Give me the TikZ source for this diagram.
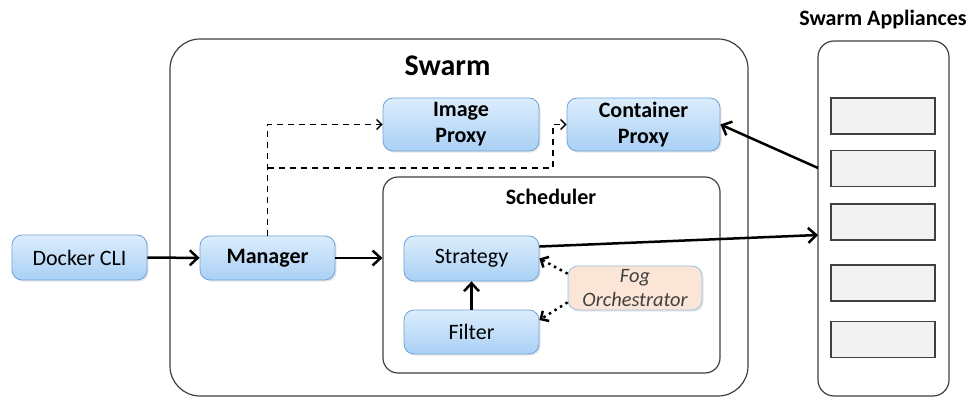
\documentclass[tikz,border=0pt]{standalone}
\usepackage{fontspec}
\setmainfont{Carlito}
\usetikzlibrary{arrows.meta,shadows}

\definecolor{nodetop}{HTML}{DCEDFC}
\definecolor{nodebot}{HTML}{A9D0F5}
\definecolor{nodeline}{HTML}{6FA3D8}
\definecolor{fogfill}{HTML}{FBE5D6}
\definecolor{slotfill}{HTML}{F2F2F2}
\definecolor{boxline}{HTML}{404040}

\begin{document}
\begin{tikzpicture}[
  x = 0.5pt, y = -0.5pt,
  font = \fontsize{11}{13}\selectfont,
  comp/.style = {draw=nodeline, top color=nodetop, bottom color=nodebot,
    rounded corners=5pt, minimum width=67.5pt, minimum height=22.5pt,
    inner sep=0pt, align=center,
    drop shadow={opacity=0.2, shadow xshift=0.8pt, shadow yshift=-0.8pt}},
  fogbox/.style = {comp, fill=fogfill, top color=fogfill, bottom color=fogfill,
    draw=nodeline!70, text=black!75,
    font=\fontsize{10.2}{12}\selectfont\itshape},
  group/.style = {draw=boxline, line width=0.6pt, inner sep=0pt},
  slot/.style = {draw=boxline, fill=slotfill, line width=0.6pt,
    minimum width=52pt, minimum height=18pt, inner sep=0pt},
  title/.style = {font=\fontsize{11}{13}\selectfont\bfseries},
  flow/.style = {line width=1.25pt, -{Straight Barb[length=4pt,width=7.5pt]}},
  hint/.style = {line width=0.7pt, dash pattern=on 3pt off 2.5pt,
    -{Straight Barb[length=2.5pt,width=5pt]}},
  tweak/.style = {line width=1.25pt, dotted,
    -{Straight Barb[length=3pt,width=6pt]}}
]
\useasboundingbox (0,0) rectangle (969,399);

% containers
\node[group, rounded corners=15pt, minimum width=289pt, minimum height=178.5pt]
  (swarm) at (459,217.5) {};
\node[font=\fontsize{15}{18}\selectfont\bfseries] (swarmtitle) at (447.5,66) {Swarm};
\node[group, rounded corners=7.5pt, minimum width=168.5pt, minimum height=98pt]
  (scheduler) at (551.5,275) {};
\node[title] (schedtitle) at (551,197) {Scheduler};
\node[group, rounded corners=8pt, minimum width=65.5pt, minimum height=177.5pt]
  (appl) at (883.5,218.5) {};
\node[title] (appltitle) at (883,20) {Swarm Appliances};
\foreach \i/\y in {1/116, 2/168.5, 3/222, 4/283, 5/339.5}
  \node[slot] (slot\i) at (883,\y) {};

% components
\node[comp] (docker) at (79.5,257.5) {Docker CLI};
\node[comp, font=\fontsize{11}{13}\selectfont\bfseries, minimum height=22pt]
  (manager) at (267.5,258) {Manager};
\node[comp, font=\fontsize{11}{13}\selectfont\bfseries, minimum width=78pt,
  minimum height=26.5pt] (imgproxy) at (461,124.5) {Image\\Proxy};
\node[comp, font=\fontsize{11}{13}\selectfont\bfseries, minimum width=76.5pt,
  minimum height=26.5pt] (ctproxy) at (643.5,124.5) {Container\\Proxy};
\node[comp] (strategy) at (471.5,258.5) {Strategy};
\node[comp, minimum height=22pt] (filter) at (471.5,332) {Filter};
\node[fogbox, minimum width=67pt, minimum height=22pt]
  (fog) at (635,288) {Fog\\Orchestrator};

\coordinate (split) at (267.5,168);
\coordinate (bend) at (553,168);
\coordinate (applin) at (818,235);
\coordinate (applout) at (818,168);

% connectors
\draw[flow] (docker) -- (manager);
\draw[flow] (manager.east) -- (manager.east -| scheduler.west);
\draw[hint] (manager.north) |- (imgproxy.west);
\draw[hint] (split) -- (bend) |- (ctproxy.west);
\draw[flow] (strategy.10) -- (applin);
\draw[flow] (applout) -- (ctproxy.east);
\draw[flow] (filter) -- (strategy);
\draw[tweak] (fog.168) -- (strategy.east);
\draw[tweak] (fog.192) -- (filter.10);

\end{tikzpicture}
\end{document}
